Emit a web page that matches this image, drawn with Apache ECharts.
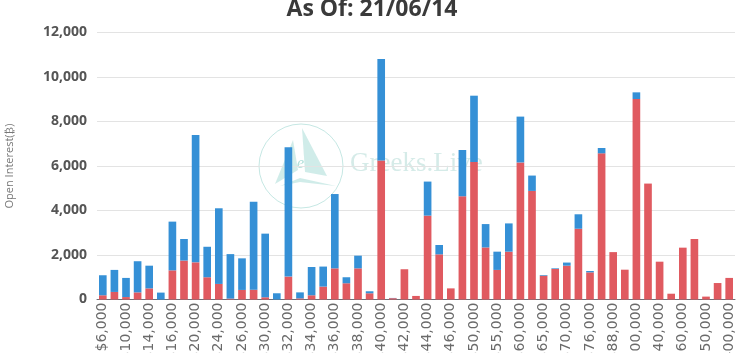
<!DOCTYPE html>
<html>
<head>
<meta charset="utf-8">
<title>Open Interest by Strike</title>
<script src="https://cdn.jsdelivr.net/npm/echarts@6/dist/echarts.min.js"></script>
<style>
  html, body { margin: 0; padding: 0; background: #fff; }
  #chart { width: 744px; height: 353px; }
</style>
</head>
<body>
<div id="chart"></div>
<script>
// strikes on the x axis
const strikes = [
  '$6,000', '$8,000', '$10,000', '$12,000', '$14,000', '$15,000', '$16,000', '$18,000',
  '$20,000', '$22,000', '$24,000', '$25,000', '$26,000', '$28,000', '$30,000', '$31,000',
  '$32,000', '$33,000', '$34,000', '$35,000', '$36,000', '$37,000', '$38,000', '$39,000',
  '$40,000', '$41,000', '$42,000', '$43,000', '$44,000', '$45,000', '$46,000', '$48,000',
  '$50,000', '$52,000', '$55,000', '$58,000', '$60,000', '$64,000', '$65,000', '$68,000',
  '$70,000', '$72,000', '$76,000', '$80,000', '$88,000', '$90,000', '$100,000', '$120,000',
  '$140,000', '$150,000', '$160,000', '$200,000', '$250,000', '$300,000', '$400,000'
]

// red, bottom of the stack
const callOI = [
  190, 340, 110, 320, 500, 0, 1310, 1750, 1670, 1000, 700, 40, 430, 440, 100, 0,
  1030, 50, 190, 580, 1400, 730, 1400, 280, 6250, 60, 1360, 160, 3770, 2030, 500, 4640,
  6180, 2340, 1330, 2150, 6160, 4880, 1070, 1370, 1520, 3180, 1220, 6570, 2130, 1340, 9010, 5210,
  1700, 260, 2330, 2720, 130, 740, 970
]

// blue, top of the stack
const putOI = [
  900, 990, 860, 1400, 1020, 310, 2190, 970, 5720, 1370, 3400, 2000, 1420, 3950, 2860, 280,
  5810, 270, 1270, 900, 3340, 270, 570, 90, 4560, 10, 0, 0, 1530, 420, 0, 2080,
  2980, 1050, 820, 1270, 2060, 690, 30, 30, 140, 650, 60, 240, 0, 0, 300, 0,
  0, 0, 0, 0, 0, 0, 0
]

const yMax = 12000
const yStep = 2000

const chart = echarts.init(document.getElementById('chart'))

const wm = 'rgba(110, 196, 186, 0.32)' // watermark tint

chart.setOption({
  animation: false,
  title: {
    text: 'As Of: 21/06/14',
    left: 'center',
    top: -7,
    textStyle: {
      fontFamily: 'Open Sans',
      fontSize: 23,
      fontWeight: 'bold',
      color: '#3a3a3a'
    }
  },
  grid: {
    left: 97,
    right: 9,
    top: 32.5,
    bottom: 53.5,
    outerBoundsMode: 'none'
  },
  xAxis: {
    type: 'category',
    data: strikes,
    axisLine: { lineStyle: { color: '#6e7079' } },
    axisTick: { interval: 1, length: 5, lineStyle: { color: '#6e7079' } },
    axisLabel: {
      interval: 1,
      rotate: 90,
      margin: 3,
      fontFamily: 'DejaVu Sans',
      fontSize: 14,
      color: '#6a6a6a'
    }
  },
  yAxis: {
    type: 'value',
    min: 0,
    max: yMax,
    interval: yStep,
    name: 'Open Interest(₿)',
    nameLocation: 'middle',
    nameGap: 82,
    nameTextStyle: { fontFamily: 'Open Sans', fontSize: 11, color: '#777' },
    axisLine: { show: false },
    axisTick: { show: false },
    splitLine: { lineStyle: { color: '#e3e3e3' } },
    axisLabel: {
      margin: 10,
      fontFamily: 'Open Sans',
      fontSize: 14,
      fontWeight: 'bold',
      color: '#555',
      formatter: v => v.toLocaleString('en-US')
    }
  },
  graphic: [
    {
      type: 'circle',
      shape: { cx: 301, cy: 166, r: 42 },
      style: { fill: 'none', stroke: 'rgba(110, 196, 186, 0.4)', lineWidth: 1 },
      z: 0
    },
    {
      type: 'polygon',
      shape: { points: [[302, 128], [327, 176], [305, 172]] },
      style: { fill: wm },
      z: 0
    },
    {
      type: 'polygon',
      shape: { points: [[293, 140], [275, 184], [298, 170]] },
      style: { fill: wm },
      z: 0
    },
    {
      type: 'polygon',
      shape: { points: [[280, 186], [300, 178], [336, 186], [300, 182]] },
      style: { fill: wm },
      z: 0
    },
    {
      type: 'text',
      left: 297,
      top: 156,
      style: {
        text: 'e',
        font: 'italic 16px "Liberation Serif"',
        fill: 'rgba(110, 196, 186, 0.55)'
      },
      z: 0
    },
    {
      type: 'text',
      left: 350,
      top: 150,
      style: {
        text: 'Greeks.Live',
        font: '27px "Liberation Serif"',
        fill: 'rgba(150, 206, 198, 0.4)'
      },
      z: 0
    }
  ],
  series: [
    {
      name: 'Call',
      type: 'bar',
      stack: 'oi',
      barWidth: '66%',
      itemStyle: { color: '#e05a60' },
      data: callOI
    },
    {
      name: 'Put',
      type: 'bar',
      stack: 'oi',
      barWidth: '66%',
      itemStyle: { color: '#3590d6' },
      data: putOI
    }
  ]
})
</script>
</body>
</html>
